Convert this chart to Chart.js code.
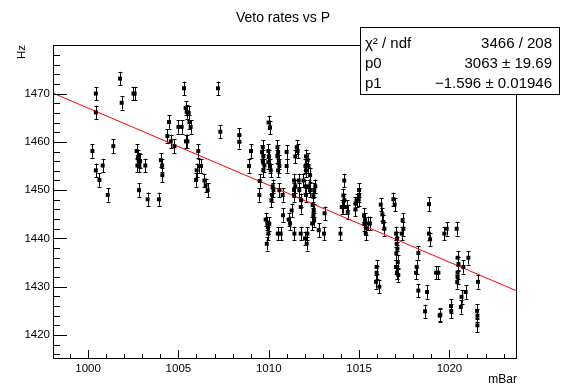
<!DOCTYPE html>
<html>
<head>
<meta charset="utf-8">
<script src="https://cdn.jsdelivr.net/npm/chart.js@4"></script>
<style>
  html, body { margin: 0; padding: 0; background: #fff; }
  #wrap { width: 561px; height: 385px; position: relative; }
</style>
</head>
<body>
<div id="wrap"><canvas id="vetoChart"></canvas></div>
<script>
// pressure (mBar) and veto rate (Hz)
const pressure = [
  1000.24, 1000.43, 1000.43, 1000.43, 1000.63, 1000.81, 1001.09, 1001.40, 1001.77, 1001.86,
  1002.51, 1002.58, 1002.69, 1002.77, 1002.80, 1002.88, 1002.73, 1002.84, 1002.82, 1003.17,
  1003.30, 1003.92, 1004.03, 1004.10, 1004.11, 1004.39, 1004.48, 1004.58, 1004.78,
  1005.00, 1005.18, 1005.31, 1005.40, 1005.46, 1005.57, 1005.61, 1005.68, 1005.42, 1005.50,
  1005.98, 1006.01, 1006.10, 1006.14, 1006.25, 1006.44, 1006.51, 1006.62, 1007.19, 1007.32,
  1008.37, 1008.37, 1008.91, 1009.02, 1009.50, 1009.48,
  1009.67, 1009.63, 1009.70, 1009.67, 1009.76, 1009.70, 1009.98, 1010.01, 1009.98, 1010.07,
  1010.11, 1009.99, 1010.07, 1009.83, 1009.92, 1009.98, 1009.89, 1009.95, 1010.03,
  1010.22, 1010.26, 1010.18, 1010.15, 1010.48, 1010.52, 1010.48, 1010.56, 1010.59, 1010.52,
  1010.59, 1010.77, 1010.50, 1010.66, 1010.79,
  1010.99, 1010.99, 1011.10, 1011.18, 1011.27, 1011.55, 1011.60, 1011.47, 1011.40, 1011.47,
  1011.40, 1011.40, 1011.66, 1011.69, 1011.79, 1011.77, 1011.42, 1011.77,
  1011.92, 1012.06, 1012.15, 1012.03, 1012.20, 1012.06, 1012.29, 1012.03, 1012.21, 1012.29,
  1012.06, 1012.52, 1012.58, 1012.47, 1012.43, 1012.49, 1012.47, 1012.51, 1012.40, 1012.01,
  1012.14, 1012.10, 1012.77,
  1013.09, 1013.06, 1013.97, 1014.18, 1014.13, 1014.18, 1014.13, 1014.31, 1014.37, 1014.04,
  1014.80, 1014.80, 1014.86, 1015.00, 1015.00, 1014.98,
  1015.27, 1015.33, 1015.29, 1015.38, 1015.51, 1015.60, 1015.37, 1015.97, 1015.97, 1015.94,
  1016.12, 1016.20, 1016.29, 1016.34, 1016.40,
  1016.90, 1016.97, 1017.05, 1017.10, 1017.08, 1017.12, 1017.06, 1017.14, 1017.04, 1017.10,
  1017.17, 1017.36, 1017.41, 1017.45,
  1018.28, 1018.19, 1018.15, 1018.28, 1018.76, 1018.65, 1018.87, 1018.87, 1018.93, 1019.26,
  1019.39, 1019.46, 1019.50, 1019.72, 1019.85,
  1020.09, 1020.10, 1020.40, 1020.45, 1020.50, 1020.45, 1020.45, 1020.43, 1020.77, 1020.67,
  1020.63, 1020.90, 1021.05, 1021.58, 1021.53, 1021.55, 1021.55
];
const rate = [
  1458.1, 1470.0, 1466.1, 1454.1, 1452.1, 1455.1, 1449.0, 1459.1, 1473.1, 1468.1,
  1470.0, 1470.0, 1458.1, 1456.9, 1456.2, 1456.0, 1455.1, 1455.1, 1450.0, 1455.1,
  1448.1, 1448.1, 1456.2, 1455.1, 1453.1, 1461.2, 1464.1, 1460.1, 1459.1,
  1463.1, 1463.1, 1471.1, 1467.0, 1466.2, 1466.0, 1464.1, 1463.1, 1460.1, 1460.1,
  1452.1, 1454.1, 1458.1, 1455.0, 1455.0, 1452.0, 1451.0, 1450.0, 1471.1, 1462.1,
  1461.4, 1460.0, 1455.0, 1458.1, 1451.9, 1449.0,
  1458.9, 1457.9, 1457.0, 1456.0, 1455.1, 1454.1, 1458.1, 1457.0, 1455.8, 1455.0,
  1454.1, 1464.0, 1463.0, 1443.9, 1443.1, 1441.0, 1438.9, 1442.3, 1443.0,
  1450.8, 1450.0, 1449.0, 1447.9, 1458.9, 1457.9, 1457.0, 1455.8, 1455.0, 1454.1,
  1450.0, 1449.0, 1441.0, 1441.0, 1444.8,
  1457.9, 1455.0, 1443.9, 1443.1, 1445.8, 1458.9, 1458.1, 1457.0, 1452.0, 1450.8,
  1450.0, 1449.0, 1452.0, 1450.0, 1447.9, 1446.5, 1441.0, 1441.0,
  1452.0, 1457.0, 1456.2, 1455.0, 1455.0, 1454.1, 1453.1, 1450.8, 1450.8, 1450.0,
  1449.0, 1450.0, 1450.8, 1449.0, 1446.9, 1445.8, 1444.8, 1443.8, 1443.1, 1440.0,
  1441.0, 1438.9, 1441.7,
  1445.2, 1441.0, 1441.0, 1452.0, 1448.9, 1447.9, 1446.5, 1446.5, 1445.5, 1446.5,
  1447.2, 1446.0, 1447.9, 1450.0, 1449.0, 1448.1,
  1444.8, 1443.8, 1443.0, 1442.1, 1443.1, 1443.1, 1441.0, 1434.1, 1432.9, 1431.0,
  1430.0, 1447.0, 1445.0, 1443.4, 1442.0,
  1448.1, 1447.0, 1441.0, 1440.0, 1438.9, 1437.9, 1436.9, 1435.1, 1434.1, 1432.9,
  1432.4, 1441.0, 1443.8, 1442.0,
  1437.0, 1434.1, 1432.9, 1429.2, 1428.9, 1424.9, 1447.1, 1441.0, 1439.8, 1432.9,
  1432.9, 1424.0, 1424.2, 1441.0, 1442.0,
  1426.0, 1425.0, 1442.0, 1436.0, 1434.7, 1432.9, 1432.0, 1431.0, 1434.1, 1427.9,
  1425.8, 1428.9, 1436.0, 1431.0, 1425.0, 1424.0, 1422.0
];
const rateErr = 1.4;

const xTickLabels = [1000, 1005, 1010, 1015, 1020];
const yTickLabels = [1420, 1430, 1440, 1450, 1460, 1470];
const xRange = [998.06, 1023.74];
const yRange = [1415.03, 1480.06];

// straight-line fit y = p0 + p1 * x
const fitP0 = 3063;
const fitP1 = -1.596;
const statRows = [
  ['\u03C7\u00B2 / ndf', '3466 / 208'],
  ['p0', '3063 \u00B1 19.69'],
  ['p1', '\u22121.596 \u00B1 0.01946']
];

const FONT = '"Liberation Sans", Arial, Helvetica, sans-serif';
Chart.defaults.font.family = FONT;
Chart.defaults.color = '#000';

const points = pressure.map((p, i) => ({ x: p, y: rate[i] }));
const fitLine = xRange.map(x => ({ x: x, y: fitP0 + fitP1 * x }));

const rootFrame = {
  id: 'rootFrame',
  beforeDatasetsDraw(chart) {
    const { ctx, chartArea, scales: { x, y } } = chart;
    ctx.save();
    ctx.beginPath();
    ctx.rect(chartArea.left, chartArea.top, chartArea.width, chartArea.height);
    ctx.clip();
    ctx.strokeStyle = '#000';
    ctx.lineWidth = 1;
    ctx.beginPath();
    for (let i = 0; i < pressure.length; i++) {
      const px = Math.round(x.getPixelForValue(pressure[i])) + 0.5;
      const yLo = y.getPixelForValue(rate[i] - rateErr);
      const yHi = y.getPixelForValue(rate[i] + rateErr);
      ctx.moveTo(px, yLo); ctx.lineTo(px, yHi);
      ctx.moveTo(px - 2, Math.round(yLo) + 0.5); ctx.lineTo(px + 2, Math.round(yLo) + 0.5);
      ctx.moveTo(px - 2, Math.round(yHi) + 0.5); ctx.lineTo(px + 2, Math.round(yHi) + 0.5);
    }
    ctx.stroke();
    ctx.restore();
  },
  afterDraw(chart) {
    const { ctx, chartArea: a, scales: { x, y } } = chart;
    ctx.save();
    ctx.strokeStyle = '#000';
    ctx.lineWidth = 1;
    ctx.strokeRect(a.left + 0.5, a.top + 0.5, a.width - 1, a.height - 1);

    // inward ticks
    ctx.beginPath();
    for (let v = 999; v <= 1023; v++) {
      const px = Math.round(x.getPixelForValue(v)) + 0.5;
      const len = v % 5 === 0 ? 9 : 5;
      ctx.moveTo(px, a.bottom); ctx.lineTo(px, a.bottom - len);
    }
    for (let v = 1416; v <= 1478; v += 2) {
      const py = Math.round(y.getPixelForValue(v)) + 0.5;
      const len = v % 10 === 0 ? 14 : 7;
      ctx.moveTo(a.left, py); ctx.lineTo(a.left + len, py);
    }
    ctx.stroke();

    // title and axis titles
    ctx.fillStyle = '#000';
    ctx.font = '14px ' + FONT;
    ctx.textAlign = 'center';
    ctx.textBaseline = 'alphabetic';
    ctx.fillText('Veto rates vs P', 283, 22);

    ctx.font = '12px ' + FONT;
    ctx.textAlign = 'right';
    ctx.fillText('mBar', a.right, 383);

    ctx.save();
    ctx.translate(25, a.top);
    ctx.rotate(-Math.PI / 2);
    ctx.font = '11.5px ' + FONT;
    ctx.textAlign = 'right';
    ctx.fillText('Hz', 0, 0);
    ctx.restore();

    // stats box
    const bx = 360, by = 27, bw = 200, bh = 68;
    ctx.fillStyle = '#fff';
    ctx.fillRect(bx, by, bw, bh);
    ctx.strokeRect(bx + 0.5, by + 0.5, bw - 1, bh - 1);
    ctx.fillStyle = '#000';
    ctx.font = '15px ' + FONT;
    const baselines = [48, 68.3, 88.3];
    statRows.forEach((row, i) => {
      ctx.textAlign = 'left';
      ctx.fillText(row[0], bx + 5, baselines[i]);
      ctx.textAlign = 'right';
      ctx.fillText(row[1], bx + 192, baselines[i]);
    });
    ctx.restore();
  }
};

new Chart(document.getElementById('vetoChart'), {
  type: 'scatter',
  data: {
    datasets: [
      {
        label: 'rates',
        data: points,
        pointStyle: 'rect',
        pointRadius: 2.8,
        pointHoverRadius: 2.8,
        backgroundColor: '#000',
        borderColor: '#000',
        borderWidth: 0
      },
      {
        type: 'line',
        label: 'fit',
        data: fitLine,
        borderColor: '#ff0000',
        borderWidth: 1,
        pointRadius: 0,
        fill: false
      }
    ]
  },
  options: {
    responsive: true,
    maintainAspectRatio: false,
    animation: false,
    devicePixelRatio: 1,
    layout: { padding: { top: 45, right: 44, left: 0, bottom: 0 } },
    plugins: {
      legend: { display: false },
      title: { display: false },
      tooltip: { enabled: false }
    },
    scales: {
      x: {
        type: 'linear',
        min: xRange[0],
        max: xRange[1],
        afterBuildTicks: s => { s.ticks = xTickLabels.map(v => ({ value: v })); },
        afterFit: s => { s.height = 26; },
        grid: { display: false, drawTicks: false },
        border: { display: false },
        ticks: { font: { size: 11.5 }, color: '#000', padding: 3, maxRotation: 0,
                 callback: v => String(v) }
      },
      y: {
        type: 'linear',
        min: yRange[0],
        max: yRange[1],
        afterBuildTicks: s => { s.ticks = yTickLabels.map(v => ({ value: v })); },
        afterFit: s => { s.width = 53; },
        grid: { display: false, drawTicks: false },
        border: { display: false },
        ticks: { font: { size: 11.5 }, color: '#000', padding: 3,
                 callback: v => String(v) }
      }
    }
  },
  plugins: [rootFrame]
});
</script>
</body>
</html>
